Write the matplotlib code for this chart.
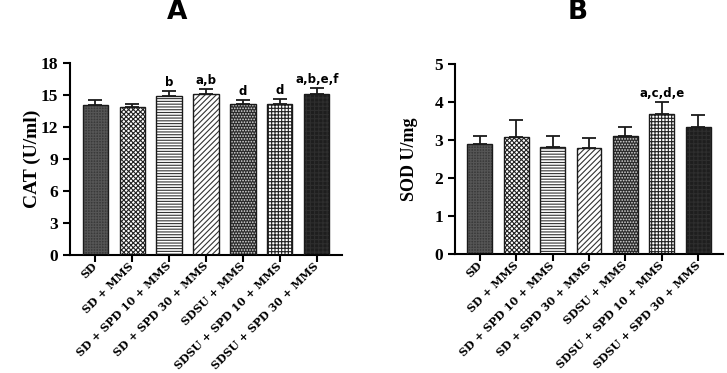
import matplotlib
matplotlib.use("Agg")
import matplotlib.pyplot as plt
import numpy as np

plt.rcParams['hatch.linewidth'] = 0.8

groups = ["SD", "SD + MMS", "SD + SPD 10 + MMS", "SD + SPD 30 + MMS",
          "SDSU + MMS", "SDSU + SPD 10 + MMS", "SDSU + SPD 30 + MMS"]

cat_mean = [14.05, 13.88, 14.9, 15.1, 14.15, 14.15, 15.1]
cat_err = [0.45, 0.28, 0.45, 0.47, 0.35, 0.48, 0.52]
cat_sig = ["", "", "b", "a,b", "d", "d", "a,b,e,f"]

sod_mean = [2.90, 3.08, 2.82, 2.79, 3.10, 3.68, 3.35]
sod_err = [0.22, 0.44, 0.29, 0.28, 0.24, 0.32, 0.32]
sod_sig = ["", "", "", "", "", "a,c,d,e", ""]

styles = [
    dict(facecolor="#3a3a3a", hatch="++++++", edgecolor="#555555"),
    dict(facecolor="#ffffff", hatch="xxxxxxx", edgecolor="#222222"),
    dict(facecolor="#ffffff", hatch="------", edgecolor="#333333"),
    dict(facecolor="#ffffff", hatch="//////", edgecolor="#333333"),
    dict(facecolor="#2a2a2a", hatch="......", edgecolor="#dddddd"),
    dict(facecolor="#ffffff", hatch="+++++", edgecolor="#222222"),
    dict(facecolor="#1e1e1e", hatch="++++", edgecolor="#2e2e2e"),
]

fig = plt.figure(figsize=(7.27, 3.73), dpi=100)
axA = fig.add_axes([0.0963, 0.3164, 0.3741, 0.5147])
axB = fig.add_axes([0.626, 0.318, 0.3685, 0.510])

serif = "Liberation Serif"

def draw(ax, means, errs, sigs, ylim, yticks, ylabel, sigoff, lpad, lsize):
    x = np.arange(len(groups))
    for i in range(len(groups)):
        st = styles[i]
        ax.bar(x[i], means[i], width=0.68, facecolor=st["facecolor"],
               hatch=st["hatch"], edgecolor=st["edgecolor"], linewidth=0, zorder=2)
        ax.bar(x[i], means[i], width=0.68, facecolor="none",
               edgecolor="#1a1a1a", linewidth=1.0, zorder=3)
        ax.errorbar(x[i], means[i], yerr=[[0], [errs[i]]], fmt="none",
                    ecolor="#1a1a1a", elinewidth=1.3, capsize=5, capthick=1.3, zorder=4)
        if sigs[i]:
            ax.text(x[i], means[i] + errs[i] + sigoff, sigs[i], ha="center", va="bottom",
                    fontsize=8.5, fontweight="bold", family="DejaVu Sans")
    ax.set_xlim(-0.68, len(groups) - 1 + 0.68)
    ax.set_ylim(*ylim)
    ax.set_yticks(yticks)
    ax.set_yticklabels([str(t) for t in yticks], family=serif, fontweight="bold", fontsize=12.5)
    ax.set_xticks(x)
    ax.set_xticklabels(groups, rotation=45, ha="right", va="center", rotation_mode="anchor",
                       family="DejaVu Serif", fontweight="bold", fontsize=7.9)
    for s in ["top", "right"]:
        ax.spines[s].set_visible(False)
    for s in ["left", "bottom"]:
        ax.spines[s].set_linewidth(1.5)
    ax.tick_params(axis="both", width=1.5, length=5)
    ax.tick_params(axis="x", pad=1.5)
    ax.set_ylabel(ylabel, family=serif, fontweight="bold", fontsize=lsize, labelpad=lpad)

draw(axA, cat_mean, cat_err, cat_sig, (0, 18), [0, 3, 6, 9, 12, 15, 18], "CAT (U/ml)", 0.2, 0, 14)
draw(axB, sod_mean, sod_err, sod_sig, (0, 5), [0, 1, 2, 3, 4, 5], "SOD U/mg", 0.05, 12, 13)

fig.text(177 / 727, 1 - 12 / 373, "A", ha="center", va="center",
         fontsize=19, fontweight="bold", family="DejaVu Sans")
fig.text(578 / 727, 1 - 12 / 373, "B", ha="center", va="center",
         fontsize=19, fontweight="bold", family="DejaVu Sans")

fig.savefig("out.png", dpi=100)
